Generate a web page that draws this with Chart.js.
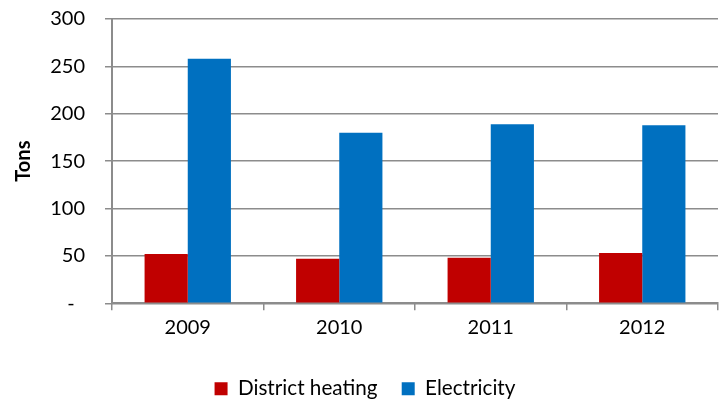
<!DOCTYPE html>
<html>
<head>
<meta charset="utf-8">
<script src="https://cdn.jsdelivr.net/npm/chart.js@4/dist/chart.umd.min.js"></script>
<style>
html,body{margin:0;padding:0;background:#fff;}
#wrap{width:723px;height:401px;}
</style>
</head>
<body>
<div id="wrap"><canvas id="c" width="723" height="401"></canvas></div>
<script>
const categories = ['2009', '2010', '2011', '2012'];
const districtHeating = [52, 47, 48, 53];
const electricity = [258, 180, 189, 188];
const yTicks = [0, 50, 100, 150, 200, 250, 300];
const seriesNames = ['District heating', 'Electricity'];

const FONT = 'Lato, "Open Sans", sans-serif';
const GRID = '#8c8c8c';

new Chart(document.getElementById('c'), {
  type: 'bar',
  data: {
    labels: categories,
    datasets: [
      { label: seriesNames[0], data: districtHeating, backgroundColor: '#C00000', borderWidth: 0 },
      { label: seriesNames[1], data: electricity, backgroundColor: '#0070C0', borderWidth: 0 }
    ]
  },
  options: {
    responsive: false,
    animation: false,
    devicePixelRatio: 1,
    layout: { padding: { top: 19, right: 5, left: 12, bottom: -8 } },
    datasets: { bar: { categoryPercentage: 0.57, barPercentage: 1.0 } },
    plugins: {
      tooltip: { enabled: false },
      legend: {
        position: 'bottom',
        labels: {
          font: { family: FONT, size: 20.7 },
          color: '#000',
          boxWidth: 13,
          boxHeight: 13,
          padding: 3,
          generateLabels: (chart) => {
            const items = Chart.defaults.plugins.legend.labels.generateLabels(chart);
            items.forEach((it, i) => { if (i < items.length - 1) it.text = it.text + '    '; });
            return items;
          }
        }
      }
    },
    scales: {
      x: {
        grid: { display: true, drawOnChartArea: false, drawTicks: true, tickLength: 7, color: GRID, lineWidth: 1.5, offset: true },
        border: { display: true, color: GRID, width: 2 },
        ticks: { font: { family: FONT, size: 20 }, color: '#000', padding: 5 },
        afterFit: (s) => { s.height = 72; }
      },
      y: {
        min: 0, max: 300,
        afterBuildTicks: (s) => { s.ticks = yTicks.map(v => ({ value: v })); },
        grid: { color: GRID, lineWidth: 1.5, tickLength: 7 },
        border: { display: true, color: GRID, width: 2 },
        ticks: {
          font: { family: FONT, size: 20 }, color: '#000', padding: 20,
          callback: (v) => v === 0 ? '-  ' : String(v)
        },
        title: { display: true, text: 'Tons', font: { family: FONT, size: 20, weight: 'bold' }, color: '#000', padding: { top: 0, bottom: 0 } },
        afterFit: (s) => { s.width = 100; s.paddingTop = 0; s.paddingBottom = 0; }
      }
    }
  }
});
</script>
</body>
</html>
